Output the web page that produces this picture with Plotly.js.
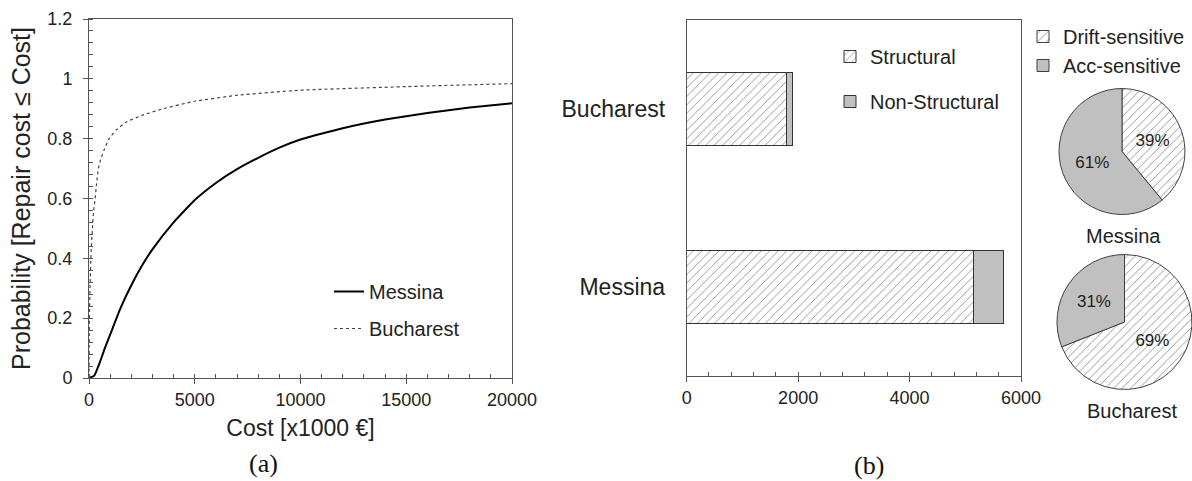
<!DOCTYPE html>
<html>
<head>
<meta charset="utf-8">
<script src="https://cdn.plot.ly/plotly-3.0.1.min.js"></script>
<style>html,body{margin:0;padding:0;background:#fff;}#chart{width:1192px;height:481px;}</style>
</head>
<body>
<div id="chart"></div>
<script>
// ---- data ----
const costMessina = [0, 250, 500, 750, 1000, 1500, 2000, 2500, 3000, 4000, 5000, 6000, 7000, 8000, 9000, 10000, 12000, 14000, 16000, 18000, 20000];
const probMessina = [0, 0.008, 0.05, 0.10, 0.145, 0.235, 0.31, 0.375, 0.43, 0.52, 0.595, 0.652, 0.698, 0.736, 0.77, 0.797, 0.835, 0.864, 0.886, 0.904, 0.918];
const costBucharest = [0, 10, 25, 50, 100, 160, 220, 290, 360, 440, 550, 700, 950, 1300, 1750, 2500, 3500, 5000, 7000, 10000, 15000, 20000];
const probBucharest = [0, 0.12, 0.22, 0.31, 0.42, 0.50, 0.56, 0.60, 0.65, 0.70, 0.73, 0.76, 0.80, 0.83, 0.855, 0.878, 0.90, 0.925, 0.945, 0.962, 0.974, 0.984];

const cities = ['Bucharest', 'Messina'];
const structural = [1795, 5145];
const nonStructural = [100, 540];

const pieLabels = ['Drift-sensitive', 'Acc-sensitive'];
const messinaShare = [39, 61];
const bucharestShare = [69, 31];

// ---- styling ----
const FONT = 'Liberation Sans, Arial, sans-serif';
const SERIF = 'Liberation Serif, Times New Roman, serif';
const AX = '#555';
const HATCH = {shape: '/', fgcolor: '#8f8f8f', bgcolor: '#ffffff', size: 6, solidity: 0.15};
const GREY = '#c0c0c0';

const pieMarker = {colors: ['#fff', GREY], pattern: {shape: ['/', ''], fgcolor: '#8f8f8f', size: 6, solidity: 0.15},
  line: {color: '#404040', width: 1}};

const traces = [
  {x: costMessina, y: probMessina, type: 'scatter', mode: 'lines', name: 'Messina',
   line: {color: '#000', width: 2, shape: 'spline', smoothing: 0.4}, xaxis: 'x', yaxis: 'y',
   legend: 'legend', legendgroup: 'm'},
  {x: costBucharest, y: probBucharest, type: 'scatter', mode: 'lines', name: 'Bucharest',
   line: {color: '#444', width: 1.2, dash: 'dot', shape: 'spline', smoothing: 0.4}, xaxis: 'x', yaxis: 'y',
   legend: 'legend', legendgroup: 'b'},
  {x: structural, y: cities, type: 'bar', orientation: 'h', name: 'Structural', width: 0.405,
   marker: {color: '#fff', pattern: HATCH, line: {color: '#333', width: 1}},
   xaxis: 'x2', yaxis: 'y2', legend: 'legend2', legendgroup: 's'},
  {x: nonStructural, y: cities, type: 'bar', orientation: 'h', name: 'Non-Structural', width: 0.405,
   marker: {color: GREY, line: {color: '#333', width: 1}},
   xaxis: 'x2', yaxis: 'y2', legend: 'legend2', legendgroup: 'n'},
  {type: 'pie', labels: pieLabels, values: messinaShare, sort: false, direction: 'clockwise', rotation: 0,
   domain: {x: [1059/1192, 1185/1192], y: [1 - 215/481, 1 - 88/481]},
   marker: pieMarker,
   textinfo: 'percent', textposition: 'inside', insidetextorientation: 'horizontal',
   textfont: {family: FONT, size: 17, color: '#222'}, legend: 'legend3', hoverinfo: 'label+percent'},
  {type: 'pie', labels: pieLabels, values: bucharestShare, sort: false, direction: 'clockwise', rotation: 0,
   domain: {x: [1057/1192, 1], y: [1 - 390/481, 1 - 254/481]},
   marker: pieMarker,
   textinfo: 'percent', textposition: 'inside', insidetextorientation: 'horizontal',
   textfont: {family: FONT, size: 17, color: '#222'}, legend: 'legend3', showlegend: false, hoverinfo: 'label+percent'}
];

const tickBase = {showline: true, linecolor: AX, linewidth: 1, mirror: true, showgrid: false, zeroline: false,
  ticks: 'outside', ticklen: 5, tickcolor: AX, tickfont: {family: FONT, size: 18, color: '#222'}};
// inner half of the crossing major ticks
const innerTicks = {showline: false, showgrid: false, zeroline: false, showticklabels: false,
  ticks: 'inside', ticklen: 5, tickcolor: AX};

const layout = {
  width: 1192, height: 481,
  margin: {l: 0, r: 0, t: 0, b: 0},
  paper_bgcolor: '#fff', plot_bgcolor: '#fff',
  font: {family: FONT, color: '#222'},
  barmode: 'stack',
  xaxis: Object.assign({}, tickBase, {domain: [89/1192, 512/1192], anchor: 'y', range: [0, 20000],
    tick0: 0, dtick: 5000, tickformat: 'd',
    minor: {dtick: 1000, ticks: 'inside', ticklen: 4, tickcolor: AX},
    title: {text: 'Cost [x1000 €]', font: {family: FONT, size: 23, color: '#222'}, standoff: 11}}),
  yaxis: Object.assign({}, tickBase, {domain: [1 - 378/481, 1 - 19/481], anchor: 'x', range: [0, 1.2],
    tick0: 0, dtick: 0.2, ticklabelstandoff: 7,
    minor: {dtick: 0.04, ticks: 'inside', ticklen: 4, tickcolor: AX},
    title: {text: 'Probability [Repair cost ≤ Cost]', font: {family: FONT, size: 25, color: '#222'}, standoff: 9}}),
  xaxis3: Object.assign({}, innerTicks, {overlaying: 'x', anchor: 'y', range: [0, 20000], tick0: 0, dtick: 5000}),
  yaxis3: Object.assign({}, innerTicks, {overlaying: 'y', anchor: 'x', range: [0, 1.2], tick0: 0, dtick: 0.2}),
  xaxis2: Object.assign({}, tickBase, {domain: [686.7/1192, 1021/1192], anchor: 'y2', range: [0, 6000],
    tick0: 0, dtick: 2000, tickformat: 'd',
    minor: {dtick: 400, ticks: 'inside', ticklen: 4, tickcolor: AX}}),
  xaxis4: Object.assign({}, innerTicks, {overlaying: 'x2', anchor: 'y2', range: [0, 6000], tick0: 0, dtick: 2000}),
  yaxis2: Object.assign({}, tickBase, {domain: [1 - 376/481, 1 - 20/481], anchor: 'x2',
    autorange: 'reversed', ticks: '', ticklabelstandoff: 16,
    tickfont: {family: FONT, size: 23, color: '#222'}}),
  legend: {x: 329/1192, y: 1 - 272/481, xanchor: 'left', yanchor: 'top', bgcolor: 'rgba(0,0,0,0)',
    font: {family: FONT, size: 20, color: '#222'}, tracegroupgap: 8, traceorder: 'grouped'},
  legend2: {x: 830/1192, y: 1 - 37/481, xanchor: 'left', yanchor: 'top', bgcolor: 'rgba(0,0,0,0)',
    font: {family: FONT, size: 20, color: '#222'}, tracegroupgap: 16, traceorder: 'grouped'},
  legend3: {x: 1023/1192, y: 1 - 17/481, xanchor: 'left', yanchor: 'top', bgcolor: 'rgba(0,0,0,0)',
    font: {family: FONT, size: 20, color: '#222'}},
  annotations: [
    {text: 'Messina', x: 1123/1192, y: 1 - 236/481, xref: 'paper', yref: 'paper', xanchor: 'center', yanchor: 'middle',
     showarrow: false, font: {family: FONT, size: 20, color: '#222'}},
    {text: 'Bucharest', x: 1132/1192, y: 1 - 411/481, xref: 'paper', yref: 'paper', xanchor: 'center', yanchor: 'middle',
     showarrow: false, font: {family: FONT, size: 20, color: '#222'}},
    {text: '(a)', x: 263/1192, y: 1 - 463/481, xref: 'paper', yref: 'paper', xanchor: 'center', yanchor: 'middle',
     showarrow: false, font: {family: SERIF, size: 26, color: '#111'}},
    {text: '(b)', x: 869/1192, y: 1 - 465/481, xref: 'paper', yref: 'paper', xanchor: 'center', yanchor: 'middle',
     showarrow: false, font: {family: SERIF, size: 26, color: '#111'}}
  ]
};

Plotly.newPlot('chart', traces, layout, {displayModeBar: false, staticPlot: true});
</script>
</body>
</html>
